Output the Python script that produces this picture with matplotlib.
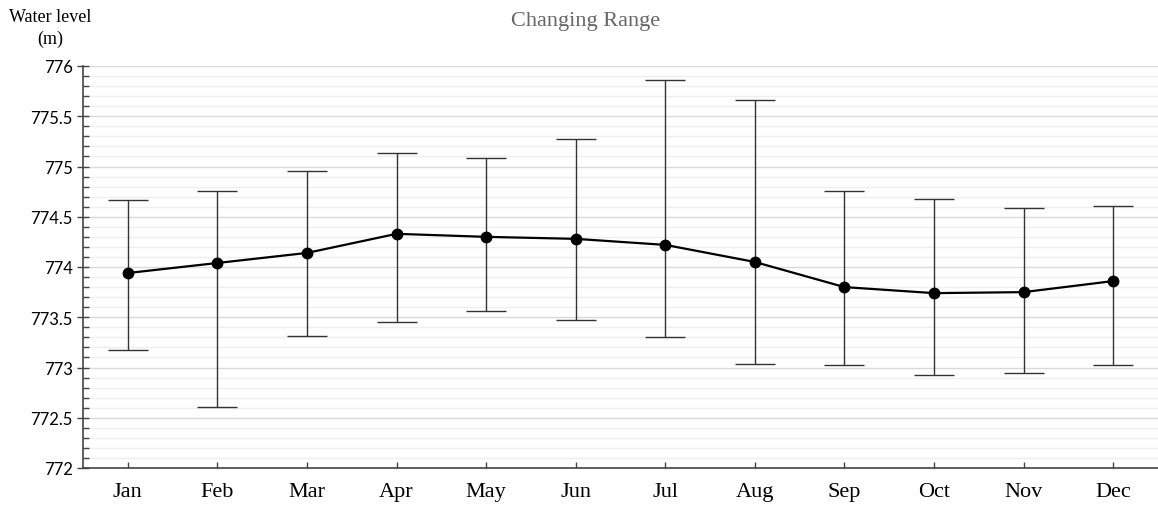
import matplotlib
matplotlib.use("Agg")
import matplotlib.pyplot as plt
from matplotlib.ticker import MultipleLocator
import numpy as np

months = ["Jan", "Feb", "Mar", "Apr", "May", "Jun", "Jul", "Aug", "Sep", "Oct", "Nov", "Dec"]
mean_level = [773.94, 774.04, 774.14, 774.33, 774.30, 774.28, 774.22, 774.05, 773.80, 773.74, 773.75, 773.86]
max_level = [774.67, 774.76, 774.96, 775.13, 775.08, 775.27, 775.86, 775.66, 774.76, 774.68, 774.59, 774.61]
min_level = [773.17, 772.61, 773.31, 773.45, 773.56, 773.47, 773.30, 773.03, 773.02, 772.93, 772.95, 773.02]
yticks = [772, 772.5, 773, 773.5, 774, 774.5, 775, 775.5, 776]
ytick_labels = ["772", "772.5", "773", "773.5", "774", "774.5", "775", "775.5", "776"]

fig = plt.figure(figsize=(11.58, 5.06), dpi=100)
ax = fig.add_axes([83/1158, 1 - 469/506, (1158 - 83)/1158, (469 - 67)/506])

x = np.arange(len(months))
mean = np.array(mean_level)
yerr = [mean - np.array(min_level), np.array(max_level) - mean]

ax.errorbar(x, mean, yerr=yerr, fmt="none", ecolor="#333333", elinewidth=1.0,
            capsize=14.4, capthick=1.0, zorder=2)
ax.plot(x, mean, color="black", linewidth=1.6, marker="o", markersize=7.5, zorder=3)

ax.set_xlim(-0.5, len(months) - 0.5)
ax.set_ylim(772, 776)
ax.set_xticks(x)
ax.set_xticklabels(months, fontfamily="Liberation Serif", fontsize=16)
ax.set_yticks(yticks)
ax.set_yticklabels(ytick_labels, fontfamily="Lato", fontsize=12)
ax.yaxis.set_minor_locator(MultipleLocator(0.1))

ax.grid(which="major", axis="y", color="#d9d9d9", linewidth=1.0, zorder=0)
ax.grid(which="minor", axis="y", color="#efefef", linewidth=1.0, zorder=0)
ax.set_axisbelow(True)

for s in ["top", "right"]:
    ax.spines[s].set_visible(False)
for s in ["left", "bottom"]:
    ax.spines[s].set_color("#444444")
    ax.spines[s].set_linewidth(1.2)

ax.tick_params(axis="y", which="major", direction="inout", length=9, width=1, color="#444444", pad=3)
ax.tick_params(axis="y", which="minor", direction="in", length=4, width=1, color="#444444")
ax.tick_params(axis="x", which="major", direction="in", length=4, width=1, color="#444444", pad=10)

fig.text(0.506, 0.958, "Changing Range", ha="center", va="center",
         fontfamily="Liberation Serif", fontsize=16, color="#666666")
fig.text(0.0432, 0.966, "Water level", ha="center", va="center",
         fontfamily="Liberation Serif", fontsize=13, color="black")
fig.text(0.0432, 0.922, "(m)", ha="center", va="center",
         fontfamily="Liberation Serif", fontsize=13, color="black")

fig.savefig("out.png", dpi=100)
